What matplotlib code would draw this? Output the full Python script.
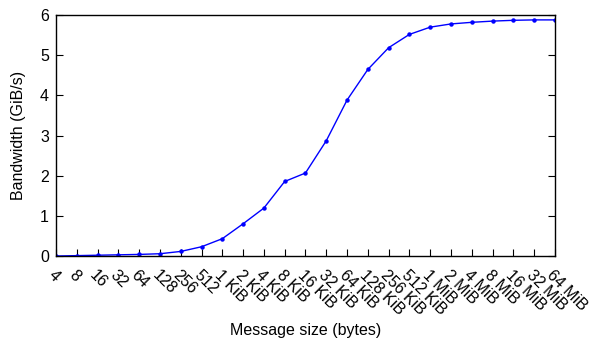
import matplotlib
matplotlib.use("Agg")
import matplotlib.pyplot as plt

categories = ["4", "8", "16", "32", "64", "128", "256", "512",
              "1 KiB", "2 KiB", "4 KiB", "8 KiB", "16 KiB", "32 KiB", "64 KiB",
              "128 KiB", "256 KiB", "512 KiB",
              "1 MiB", "2 MiB", "4 MiB", "8 MiB", "16 MiB", "32 MiB", "64 MiB"]
bandwidth = [0.01, 0.02, 0.03, 0.04, 0.05, 0.067, 0.124, 0.24,
             0.44, 0.81, 1.2, 1.86, 2.07, 2.87, 3.88,
             4.64, 5.18, 5.51,
             5.69, 5.77, 5.81, 5.84, 5.86, 5.87, 5.87]
y_ticks = [0, 1, 2, 3, 4, 5, 6]

plt.rcParams['font.family'] = ['Liberation Sans', 'DejaVu Sans']
fig = plt.figure(figsize=(5.98, 3.41), dpi=100)
ax = fig.add_axes([0.0936, 0.248, 0.928 - 0.0936, 0.957 - 0.248])

x = list(range(len(categories)))
ax.plot(x, bandwidth, color='#0000ff', lw=1.0, marker='o', markersize=2.2)

ax.set_xlim(0, len(categories) - 1)
ax.set_ylim(0, 6)
ax.set_yticks(y_ticks)
ax.set_xticks(x)
ax.set_xticklabels(categories, rotation=-45, ha='left', va='top',
                   rotation_mode='anchor', fontsize=11.5)
ax.tick_params(axis='x', direction='in', length=5, width=0.8, top=False, pad=8)
ax.tick_params(axis='y', direction='in', length=5, width=0.8, right=True, labelsize=11.5, pad=5)
for s in ax.spines.values():
    s.set_linewidth(1.0)

ax.set_ylabel("Bandwidth (GiB/s)", fontsize=11.5, labelpad=10)
ax.set_xlabel("Message size (bytes)", fontsize=11.5)
ax.xaxis.set_label_coords(0.5, -0.275)

fig.savefig("out.png", dpi=100)
